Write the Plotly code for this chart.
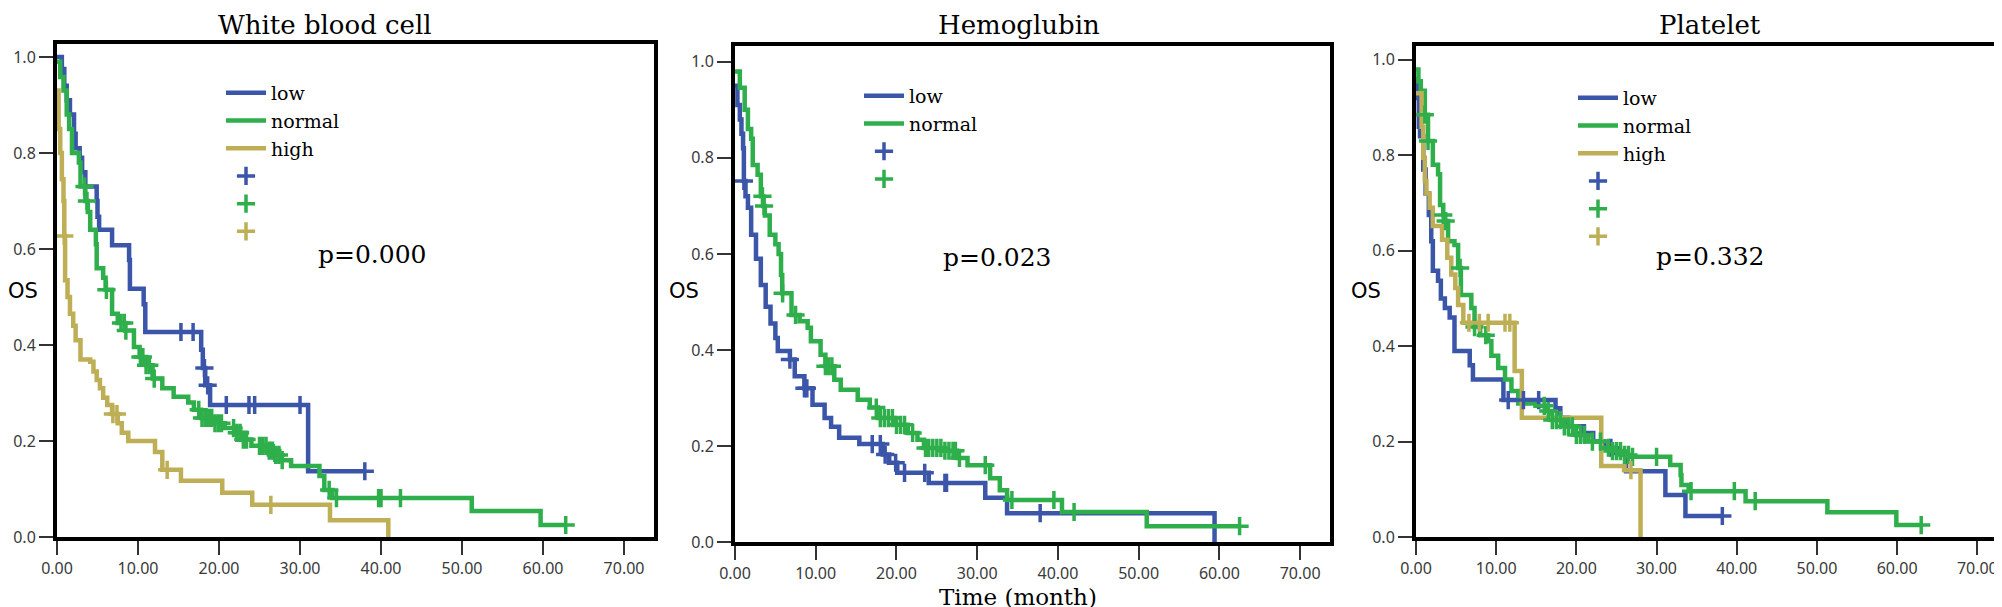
import numpy as np
import plotly.graph_objects as go

W, H = 2002, 607

# ---- White blood cell ----
wbc_low_t = [0, 0.6, 0.9, 1.2, 1.6, 2.1, 2.3, 2.8, 3.1, 3.5, 4.9, 5.0, 5.2, 6.8, 8.9, 9.0,
             10.7, 10.9, 17.8, 18.0, 18.3, 18.9, 31.0, 38.0]
wbc_low_s = [1.0, 0.975, 0.94, 0.91, 0.88, 0.84, 0.81, 0.79, 0.76, 0.73, 0.70, 0.667, 0.64,
             0.608, 0.577, 0.517, 0.485, 0.427, 0.39, 0.352, 0.316, 0.275, 0.137, 0.137]
wbc_low_cens = [15.3, 16.8, 18.2, 18.6, 20.9, 23.7, 24.4, 30.0, 38.0]

wbc_normal_t = [0, 0.4, 0.8, 1.2, 1.5, 1.85, 2.7, 2.9, 3.5, 3.8, 4.1, 4.8, 4.9, 5.7, 6.0, 6.8,
                7.5, 8.4, 9.5, 10.2, 11.0, 11.8, 13.0, 14.4, 16.2, 16.9, 17.8, 19.5, 20.7, 22.0,
                22.7, 24.0, 26.0, 26.9, 27.7, 28.9, 32.4, 33.0, 34.0, 51.2, 59.7, 62.8]
wbc_normal_s = [0.99, 0.958, 0.93, 0.88, 0.85, 0.80, 0.78, 0.73, 0.70, 0.677, 0.64, 0.61, 0.56,
                0.54, 0.515, 0.465, 0.446, 0.43, 0.396, 0.375, 0.358, 0.33, 0.31, 0.292, 0.28,
                0.265, 0.248, 0.237, 0.227, 0.217, 0.203, 0.19, 0.18, 0.171, 0.16, 0.148, 0.127,
                0.098, 0.081, 0.054, 0.025, 0.025]
wbc_normal_cens = [3.4, 3.7, 6.1, 7.9, 8.3, 8.5, 10.3, 10.6, 11.0, 11.4, 12.0, 17.5, 17.9, 18.3,
                   18.7, 19.1, 19.5, 19.9, 20.3, 21.8, 22.2, 22.6, 23.0, 23.4, 25.0, 25.4, 25.8,
                   26.2, 26.6, 27.0, 27.4, 27.8, 33.6, 34.5, 39.7, 40.0, 42.4, 62.8]

wbc_high_t = [0, 0.2, 0.4, 0.6, 0.8, 0.9, 1.0, 1.3, 1.6, 2.0, 2.3, 2.9, 4.1, 4.5, 4.9, 5.3, 5.7,
              6.2, 6.8, 7.5, 8.0, 8.8, 12.1, 13.0, 15.3, 20.4, 24.1, 33.7, 40.9]
wbc_high_s = [0.93, 0.85, 0.80, 0.745, 0.70, 0.627, 0.535, 0.50, 0.465, 0.44, 0.41, 0.37, 0.365,
              0.345, 0.327, 0.31, 0.29, 0.275, 0.256, 0.237, 0.217, 0.20, 0.177, 0.14, 0.117,
              0.092, 0.067, 0.035, 0.0]
wbc_high_cens = [0.9, 6.9, 7.4, 13.6, 26.4]

# ---- Hemoglubin ----
hgb_low_t = [0, 0.3, 0.6, 0.8, 1.0, 1.1, 1.3, 1.6, 2.0, 2.6, 3.2, 3.8, 4.4, 5.0, 5.3, 6.8, 7.4,
             8.6, 9.6, 11.1, 11.9, 12.9, 15.4, 18.3, 19.1, 20.1, 24.0, 31.0, 33.7, 59.4]
hgb_low_s = [0.95, 0.91, 0.88, 0.85, 0.82, 0.752, 0.72, 0.696, 0.64, 0.59, 0.535, 0.49, 0.455,
             0.425, 0.398, 0.38, 0.345, 0.32, 0.286, 0.258, 0.24, 0.217, 0.204, 0.182, 0.165,
             0.144, 0.123, 0.092, 0.06, 0.0]
hgb_low_cens = [1.1, 6.8, 8.6, 8.9, 17.0, 18.0, 18.6, 19.9, 21.0, 23.5, 26.0, 26.2, 37.8]

hgb_normal_t = [0, 0.6, 1.2, 1.6, 2.0, 2.2, 2.8, 3.2, 3.5, 3.7, 4.3, 5.0, 5.4, 5.7, 5.85, 7.0,
                8.0, 9.0, 9.4, 10.6, 11.2, 12.3, 13.1, 15.2, 16.7, 17.7, 19.7, 21.4, 22.6, 23.4,
                25.9, 27.5, 28.8, 31.6, 32.8, 33.7, 40.5, 51.0, 62.5]
hgb_normal_s = [0.98, 0.946, 0.90, 0.86, 0.84, 0.785, 0.765, 0.72, 0.70, 0.68, 0.64, 0.62, 0.60,
                0.556, 0.518, 0.473, 0.46, 0.446, 0.418, 0.39, 0.366, 0.338, 0.317, 0.296, 0.28,
                0.258, 0.244, 0.227, 0.213, 0.196, 0.19, 0.175, 0.16, 0.133, 0.108, 0.0875,
                0.0625, 0.033, 0.033]
hgb_normal_cens = [3.4, 3.6, 5.9, 7.5, 11.2, 11.6, 12.0, 17.5, 18.0, 18.5, 19.0, 19.5, 20.0,
                   20.5, 21.0, 22.0, 23.6, 24.0, 24.5, 25.0, 25.5, 26.0, 26.5, 27.0, 27.3, 27.8,
                   31.0, 34.3, 39.5, 42.0, 62.5]

# ---- Platelet ----
plt_low_t = [0, 0.2, 0.35, 0.5, 0.9, 1.2, 1.6, 1.9, 2.1, 2.75, 3.1, 3.6, 4.2, 4.8, 6.7, 7.1,
             10.9, 17.4, 18.0, 19.0, 20.7, 22.1, 23.5, 24.9, 26.2, 31.1, 33.6, 38.2]
plt_low_s = [0.96, 0.92, 0.86, 0.84, 0.77, 0.72, 0.675, 0.62, 0.558, 0.537, 0.50, 0.48, 0.46,
             0.39, 0.36, 0.33, 0.287, 0.27, 0.25, 0.232, 0.218, 0.2, 0.187, 0.176, 0.138, 0.088,
             0.044, 0.044]
plt_low_cens = [11.5, 13.4, 15.3, 21.0, 24.3, 38.2]

plt_normal_t = [0, 0.3, 0.6, 1.1, 1.5, 2.1, 2.75, 3.0, 3.4, 3.6, 4.0, 4.8, 5.25, 5.6, 6.9, 7.3,
                8.0, 9.0, 9.4, 10.25, 11.1, 11.9, 12.75, 14.9, 16.1, 16.9, 18.4, 19.9, 21.5,
                23.1, 24.4, 25.6, 26.9, 31.7, 33.0, 33.1, 34.0, 41.1, 51.3, 59.9, 63.0]
plt_normal_s = [0.98, 0.955, 0.935, 0.885, 0.83, 0.78, 0.76, 0.696, 0.675, 0.662, 0.62, 0.612,
                0.564, 0.507, 0.48, 0.44, 0.423, 0.41, 0.38, 0.354, 0.33, 0.306, 0.28, 0.275,
                0.264, 0.245, 0.232, 0.214, 0.2, 0.187, 0.18, 0.172, 0.168, 0.151, 0.13, 0.109,
                0.096, 0.075, 0.052, 0.025, 0.025]
plt_normal_cens = [1.1, 1.5, 3.4, 3.7, 5.5, 7.3, 8.7, 16.0, 16.5, 17.0, 17.5, 18.0, 18.5, 19.0,
                   19.5, 20.0, 20.5, 21.0, 22.0, 23.0, 24.0, 24.5, 25.0, 25.5, 26.0, 26.5, 27.0,
                   30.0, 34.3, 39.7, 42.3, 63.0]

plt_high_t = [0, 0.7, 0.9, 1.1, 1.3, 1.7, 2.1, 3.25, 3.9, 4.4, 4.9, 5.25, 5.9, 12.3, 13.2, 23.1,
              26.0, 28.0]
plt_high_s = [0.93, 0.86, 0.795, 0.746, 0.72, 0.69, 0.652, 0.623, 0.585, 0.55, 0.522, 0.486,
              0.449, 0.348, 0.25, 0.149, 0.14, 0.0]
plt_high_cens = [6.6, 7.9, 9.0, 11.1, 11.7, 26.8]

titles = ["White blood cell", "Hemoglubin", "Platelet"]
p_values = ["p=0.000", "p=0.023", "p=0.332"]
x_ticks = [0, 10, 20, 30, 40, 50, 60, 70]
y_ticks = [0, 0.2, 0.4, 0.6, 0.8, 1.0]

colors = {"low": "#3B55A9", "normal": "#2EAF4B", "high": "#BEAE55"}

panels = [
    [("low", wbc_low_t, wbc_low_s, wbc_low_cens),
     ("normal", wbc_normal_t, wbc_normal_s, wbc_normal_cens),
     ("high", wbc_high_t, wbc_high_s, wbc_high_cens)],
    [("low", hgb_low_t, hgb_low_s, hgb_low_cens),
     ("normal", hgb_normal_t, hgb_normal_s, hgb_normal_cens)],
    [("low", plt_low_t, plt_low_s, plt_low_cens),
     ("normal", plt_normal_t, plt_normal_s, plt_normal_cens),
     ("high", plt_high_t, plt_high_s, plt_high_cens)],
]

# pixel layout of each panel frame: left, right, top, bottom, y-top value
frames = [(49, 646, 36, 529, 1.027), (727, 1322, 38, 534, 1.033), (1408, 1999, 38, 529, 1.029)]
legend_pos = [(213, 66), (851, 69), (1565, 71)]
title_x = [317, 1011, 1702]
p_pos = [(364, 247), (989, 249), (1702, 248)]
os_x = [15, 676, 1358]

SERIF = "DejaVu Serif"


def surv_at(times, surv, t):
    i = np.searchsorted(times, t, side="right") - 1
    return surv[max(i, 0)]


fig = go.Figure()
annotations = []
for k, groups in enumerate(panels):
    sfx = "" if k == 0 else str(k + 1)
    lg = "legend" + sfx
    # curves first, censor marks after (legend order)
    for name, t, s, c in groups:
        fig.add_trace(go.Scatter(
            x=t, y=s, mode="lines", line=dict(color=colors[name], width=4.5, shape="hv"),
            name=name, legend=lg, xaxis="x" + sfx, yaxis="y" + sfx))
    for name, t, s, c in groups:
        fig.add_trace(go.Scatter(
            x=c, y=[surv_at(t, s, v) for v in c], mode="markers",
            marker=dict(symbol="cross-thin", size=13, line=dict(color=colors[name], width=3.5)),
            name="", legend=lg, xaxis="x" + sfx, yaxis="y" + sfx))

    left, right, top, bottom, ytop = frames[k]
    axis_common = dict(showline=True, mirror=True, linewidth=4, linecolor="black",
                       showgrid=False, zeroline=False, ticks="outside", ticklen=14,
                       tickwidth=1.5, tickcolor="#333333", automargin=False,
                       tickfont=dict(family="Noto Sans", size=16, color="#3a3a3a"))
    fig.layout["xaxis" + sfx] = dict(
        axis_common, domain=[left / W, right / W], range=[0, 73.7],
        tickvals=x_ticks, tickformat=".2f", anchor="y" + sfx)
    fig.layout["yaxis" + sfx] = dict(
        axis_common, domain=[1 - bottom / H, 1 - top / H], range=[0, ytop],
        tickvals=y_ticks, tickformat=".1f", anchor="x" + sfx)

    lx, ly = legend_pos[k]
    fig.layout[lg] = dict(x=lx / W, y=1 - ly / H, xanchor="left", yanchor="top",
                          bgcolor="rgba(0,0,0,0)", itemwidth=40, tracegroupgap=0,
                          font=dict(family=SERIF, size=19, color="black"))

    annotations.append(dict(text=titles[k], x=title_x[k] / W, y=1 - 17 / H, xref="paper",
                            yref="paper", showarrow=False, xanchor="center", yanchor="middle",
                            font=dict(family=SERIF, size=26, color="black")))
    px, py = p_pos[k]
    annotations.append(dict(text=p_values[k], x=px / W, y=1 - py / H, xref="paper", yref="paper",
                            showarrow=False, xanchor="center", yanchor="middle",
                            font=dict(family=SERIF, size=25, color="black")))
    annotations.append(dict(text="OS", x=os_x[k] / W, y=1 - 283 / H, xref="paper", yref="paper",
                            showarrow=False, xanchor="center", yanchor="middle",
                            font=dict(family="DejaVu Sans", size=21, color="black")))

annotations.append(dict(text="Time (month)", x=1010 / W, y=1 - 589 / H, xref="paper",
                        yref="paper", showarrow=False, xanchor="center", yanchor="middle",
                        font=dict(family=SERIF, size=23, color="black")))

fig.update_layout(width=W, height=H, margin=dict(l=0, r=0, t=0, b=0),
                  paper_bgcolor="white", plot_bgcolor="white",
                  annotations=annotations, showlegend=True)

fig.write_html("out.html")
